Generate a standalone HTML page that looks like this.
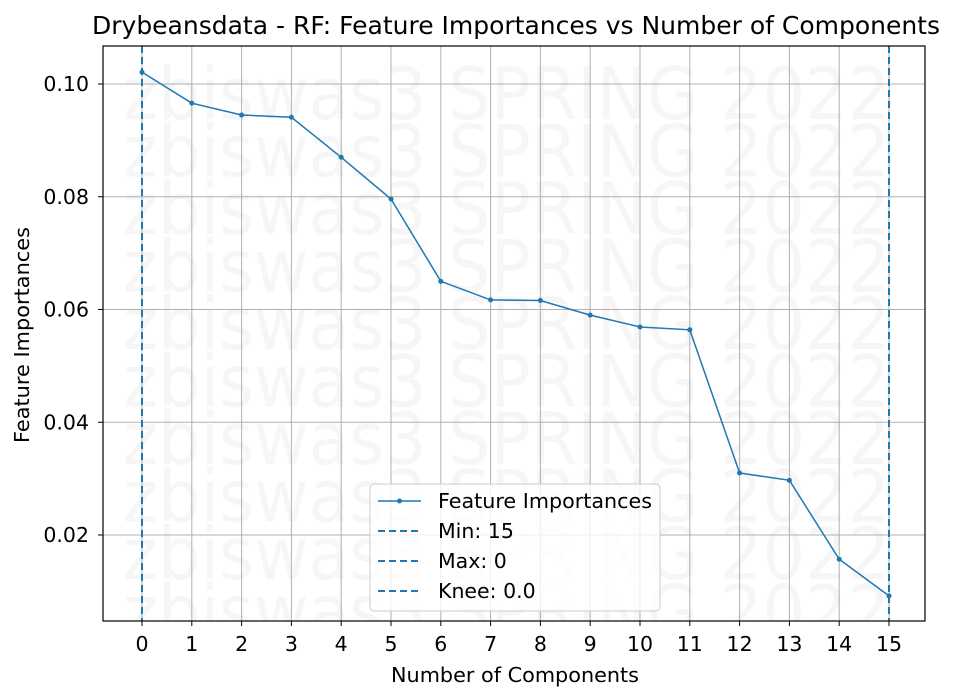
<!DOCTYPE html>
<html><head><meta charset="utf-8"><style>body{margin:0;background:#fff}svg{display:block}text{font-family:"DejaVu Sans","Liberation Sans",sans-serif}</style></head>
<body>
<svg id="chart" width="954" height="700" xmlns="http://www.w3.org/2000/svg">
<rect width="954" height="700" fill="#fff"/>
<defs><clipPath id="pc"><rect x="103" y="46" width="822" height="575"/></clipPath></defs>
<g id="wm" clip-path="url(#pc)"></g>
<g id="grid"></g>
<g id="vlines" clip-path="url(#pc)"></g>
<g id="series"></g>
<rect x="103" y="46" width="822" height="575" fill="none" stroke="#000" stroke-width="1.2"/>
<g id="xt"></g>
<g id="yt"></g>
<text x="516" y="34" font-size="25" text-anchor="middle" textLength="848" lengthAdjust="spacingAndGlyphs">Drybeansdata - RF: Feature Importances vs Number of Components</text>
<text x="515" y="682" font-size="20.5" text-anchor="middle" textLength="248" lengthAdjust="spacingAndGlyphs">Number of Components</text>
<text transform="translate(29,335) rotate(-90)" font-size="20.5" text-anchor="middle" textLength="216" lengthAdjust="spacingAndGlyphs">Feature Importances</text>
<g>
<rect x="370" y="484" width="290" height="127" rx="4" fill="#fff" fill-opacity="0.8" stroke="#ccc"/>
<g><line x1="378" y1="501" x2="421" y2="501" stroke="#1f77b4" stroke-width="1.5"/><circle cx="399.5" cy="501" r="2.5" fill="#1f77b4"/><text x="438" y="508" font-size="20.5" textLength="214" lengthAdjust="spacingAndGlyphs">Feature Importances</text></g>
<g><line x1="378" y1="531" x2="421" y2="531" stroke="#1f77b4" stroke-width="2" stroke-dasharray="7,4"/><text x="438" y="538" font-size="20.5">Min: 15</text></g>
<g><line x1="378" y1="561" x2="421" y2="561" stroke="#1f77b4" stroke-width="2" stroke-dasharray="7,4"/><text x="438" y="568" font-size="20.5">Max: 0</text></g>
<g><line x1="378" y1="591" x2="421" y2="591" stroke="#1f77b4" stroke-width="2" stroke-dasharray="7,4"/><text x="438" y="598" font-size="20.5">Knee: 0.0</text></g>
</g>
</svg>
<script>
const components=[0,1,2,3,4,5,6,7,8,9,10,11,12,13,14,15];
const importances=[0.1021,0.0966,0.0945,0.0941,0.0870,0.0796,0.0650,0.0617,0.0616,0.0590,0.0569,0.0564,0.0310,0.0297,0.0157,0.0092];
const yTicks=[0.02,0.04,0.06,0.08,0.10];
const yTickLabels=["0.02","0.04","0.06","0.08","0.10"];
const refLines=[15,0,0];
const NS="http://www.w3.org/2000/svg";
function X(v){return 142+v*(889-142)/15;}
function Y(v){return 647.75-v*5637.5;}
function mk(tag,attrs,parent){const e=document.createElementNS(NS,tag);for(const k in attrs)e.setAttribute(k,attrs[k]);parent.appendChild(e);return e;}
const wm=document.getElementById('wm');
for(let i=0;i<10;i++){const t=mk('text',{x:123,y:119+i*57.5,'font-size':72,fill:'#000','fill-opacity':0.035,textLength:767,lengthAdjust:'spacingAndGlyphs'},wm);t.textContent='zbiswas3 SPRING 2022';

}
const grid=document.getElementById('grid'),xt=document.getElementById('xt'),yt=document.getElementById('yt');
components.forEach(c=>{const x=X(c);
const g=mk('line',{x1:x,x2:x,y1:46,y2:621,stroke:'#b0b0b0','stroke-width':1},grid);


mk('line',{x1:x,x2:x,y1:621,y2:626,stroke:'#000'},xt);
const t=mk('text',{x:x,y:651,'font-size':20.5,'text-anchor':'middle'},xt);t.textContent=c;

});
yTicks.forEach((v,i)=>{const y=Y(v);
const g=mk('line',{x1:103,x2:925,y1:y,y2:y,stroke:'#b0b0b0','stroke-width':1},grid);


mk('line',{x1:98,x2:103,y1:y,y2:y,stroke:'#000'},yt);
const t=mk('text',{x:89,y:y+7,'font-size':20.5,'text-anchor':'end'},yt);t.textContent=yTickLabels[i];

});
const vl=document.getElementById('vlines');
refLines.forEach(v=>{const l=mk('line',{x1:X(v),x2:X(v),y1:46,y2:621,stroke:'#1f77b4','stroke-width':2,'stroke-dasharray':'7,4'},vl);

});
const s=document.getElementById('series');
const pl=mk('polyline',{points:components.map((c,i)=>X(c)+','+Y(importances[i])).join(' '),fill:'none',stroke:'#1f77b4','stroke-width':1.5},s);


components.forEach((c,i)=>{const p=mk('circle',{cx:X(c),cy:Y(importances[i]),r:2.5,fill:'#1f77b4'},s);

});
</script>
</body></html>
